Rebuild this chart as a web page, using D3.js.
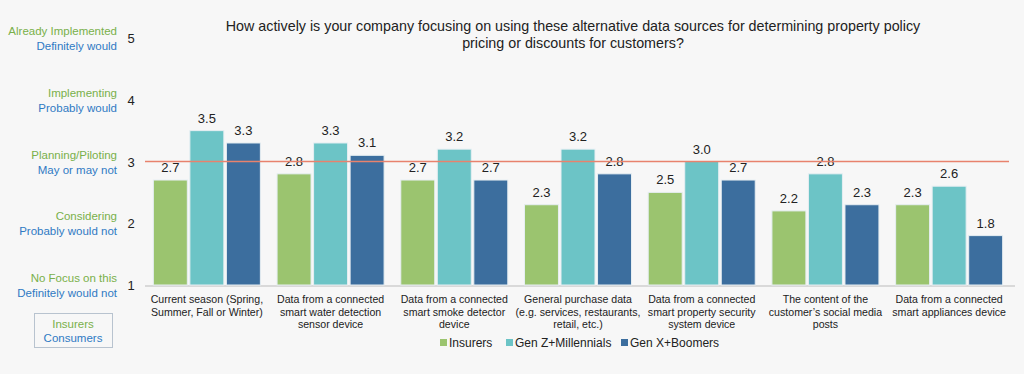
<!DOCTYPE html>
<html>
<head>
<meta charset="utf-8">
<script src="https://cdn.jsdelivr.net/npm/d3@7"></script>
<style>
  html, body { margin: 0; padding: 0; background: #f7f7f7; }
  svg { display: block; font-family: "Liberation Sans", Arial, sans-serif; }
</style>
</head>
<body>
<div id="chart"></div>
<script>
const categories = [
  ['Current season (Spring,', 'Summer, Fall or Winter)'],
  ['Data from a connected', 'smart water detection', 'sensor device'],
  ['Data from a connected', 'smart smoke detector', 'device'],
  ['General purchase data', '(e.g. services, restaurants,', 'retail, etc.)'],
  ['Data from a connected', 'smart property security', 'system device'],
  ['The content of the', 'customer\u2019s social media', 'posts'],
  ['Data from a connected', 'smart appliances device']
];
const seriesNames = ['Insurers', 'Gen Z+Millennials', 'Gen X+Boomers'];
const insurers = [2.7, 2.8, 2.7, 2.3, 2.5, 2.2, 2.3];
const genZ = [3.5, 3.3, 3.2, 3.2, 3.0, 2.8, 2.6];
const genX = [3.3, 3.1, 2.7, 2.8, 2.7, 2.3, 1.8];
const yTicks = [1, 2, 3, 4, 5];
const insurerScale = ['No Focus on this', 'Considering', 'Planning/Piloting', 'Implementing', 'Already Implemented'];
const consumerScale = ['Definitely would not', 'Probably would not', 'May or may not', 'Probably would', 'Definitely would'];
const title = ['How actively is your company focusing on using these alternative data sources for determining property policy',
  'pricing or discounts for customers?'];

const COLORS = ['#9bc46f', '#6cc4c6', '#3c6e9e'];
const GREEN_TEXT = '#79b04a';
const BLUE_TEXT = '#2f7ac4';
const width = 1024, height = 374;

const svg = d3.select('#chart').append('svg')
  .attr('width', width).attr('height', height);

svg.append('rect').attr('width', width).attr('height', height).attr('fill', '#f7f7f7');

const x = d3.scaleBand()
  .domain(d3.range(categories.length))
  .range([145, 1011])
  .paddingInner(0.135)
  .paddingOuter(0.0675);

const xs = d3.scaleBand()
  .domain(d3.range(seriesNames.length))
  .range([0, x.bandwidth()])
  .paddingInner(0.07);

const y = d3.scaleLinear().domain([1, 5]).range([285, 38]);

// title
svg.append('text')
  .attr('x', 573).attr('y', 31)
  .attr('text-anchor', 'middle')
  .attr('font-size', 14.3).attr('fill', '#222')
  .selectAll('tspan').data(title).enter().append('tspan')
  .attr('x', 573).attr('dy', (d, i) => i ? 17 : 0)
  .text(d => d);

// y axis numbers
svg.append('g').selectAll('text').data(yTicks).enter().append('text')
  .attr('x', 131).attr('y', d => y(d) + 5)
  .attr('text-anchor', 'middle')
  .attr('font-size', 13).attr('fill', '#222')
  .text(d => d);

// scale labels on the left
const lbl = svg.append('g').selectAll('g').data(yTicks).enter().append('g');
lbl.append('text')
  .attr('x', 117).attr('y', d => y(d) - 3)
  .attr('text-anchor', 'end').attr('font-size', 11.5).attr('fill', GREEN_TEXT)
  .text((d, i) => insurerScale[i]);
lbl.append('text')
  .attr('x', 117).attr('y', d => y(d) + 12)
  .attr('text-anchor', 'end').attr('font-size', 11.5).attr('fill', BLUE_TEXT)
  .text((d, i) => consumerScale[i]);

// legend box for scale labels
svg.append('rect')
  .attr('x', 34.5).attr('y', 313.5).attr('width', 78).attr('height', 34)
  .attr('fill', 'none').attr('stroke', '#b8c3cf').attr('stroke-width', 1);
svg.append('text').attr('x', 73).attr('y', 328)
  .attr('text-anchor', 'middle').attr('font-size', 11.5).attr('fill', GREEN_TEXT).text('Insurers');
svg.append('text').attr('x', 73).attr('y', 342)
  .attr('text-anchor', 'middle').attr('font-size', 11.5).attr('fill', BLUE_TEXT).text('Consumers');

// baseline
svg.append('line')
  .attr('x1', 145).attr('x2', 1015)
  .attr('y1', y(1) + 1).attr('y2', y(1) + 1)
  .attr('stroke', '#d9d9d9').attr('stroke-width', 2);

const rows = categories.map((c, i) => [insurers[i], genZ[i], genX[i]]);

const groups = svg.append('g').selectAll('g').data(rows).enter().append('g')
  .attr('transform', (d, i) => `translate(${x(i)},0)`);

groups.selectAll('rect').data(d => d).enter().append('rect')
  .attr('x', (d, j) => xs(j))
  .attr('width', xs.bandwidth())
  .attr('y', d => y(d))
  .attr('height', d => y(1) - y(d))
  .attr('fill', (d, j) => COLORS[j])
  .attr('stroke', '#e6eef2').attr('stroke-width', 1);

// reference line at 3
svg.append('line')
  .attr('x1', 145).attr('x2', 1009)
  .attr('y1', y(3)).attr('y2', y(3))
  .attr('stroke', '#e8826d').attr('stroke-width', 1.3);

groups.selectAll('text.val').data(d => d).enter().append('text')
  .attr('class', 'val')
  .attr('x', (d, j) => xs(j) + xs.bandwidth() / 2)
  .attr('y', d => y(d) - 8)
  .attr('text-anchor', 'middle').attr('font-size', 13).attr('fill', '#222')
  .text(d => d.toFixed(1));

// category labels
groups.append('text')
  .attr('class', 'cat')
  .attr('y', 303)
  .attr('text-anchor', 'middle').attr('font-size', 10.6).attr('fill', '#222')
  .selectAll('tspan').data((d, i) => categories[i]).enter().append('tspan')
  .attr('x', x.bandwidth() / 2).attr('dy', (t, k) => k ? 12.5 : 0)
  .text(t => t);

// series legend
const legendX = [440, 506, 621];
const leg = svg.append('g').selectAll('g').data(seriesNames).enter().append('g')
  .attr('transform', (d, i) => `translate(${legendX[i]},347)`);
leg.append('rect').attr('x', 0).attr('y', -8).attr('width', 7).attr('height', 7)
  .attr('fill', (d, i) => COLORS[i]);
leg.append('text').attr('x', 9).attr('y', 0)
  .attr('font-size', 12).attr('fill', '#222').text(d => d);
</script>
</body>
</html>
